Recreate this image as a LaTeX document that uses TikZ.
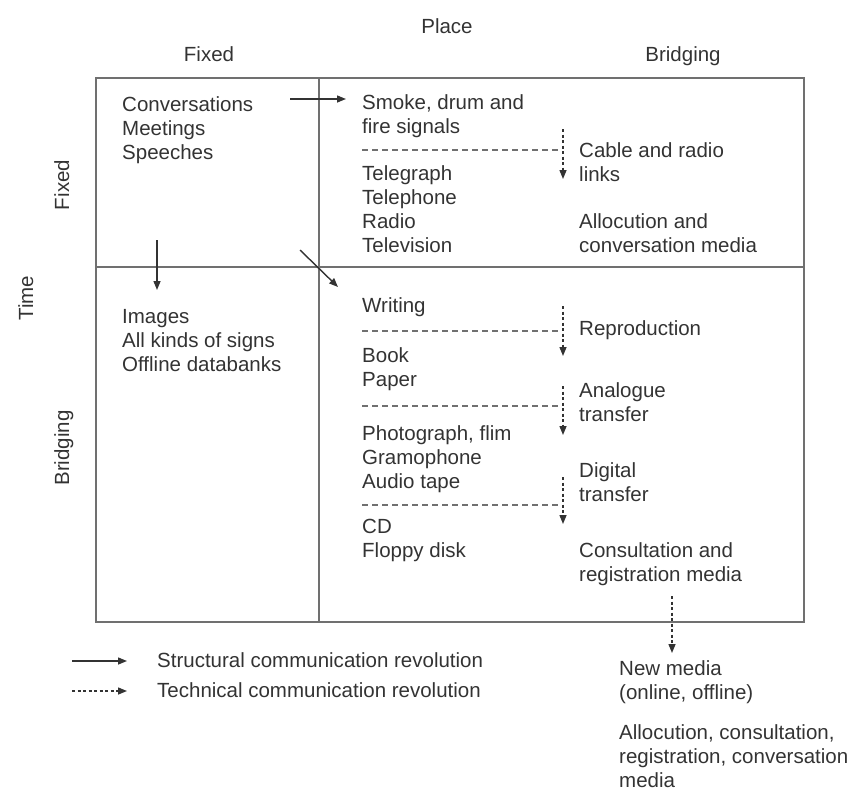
\documentclass[tikz,border=0pt]{standalone}
\usepackage{fontspec}
\setmainfont{Liberation Sans}
\usetikzlibrary{arrows.meta, positioning}
\definecolor{inkgray}{HTML}{333333}
\definecolor{rulegray}{HTML}{707070}

\begin{document}
\begin{tikzpicture}[x=1pt, y=-1pt, >={Stealth[length=9pt,width=7pt,inset=0pt]},
    every node/.style={font=\fontsize{20.5}{24}\selectfont, text=inkgray, inner sep=0pt},
    txt/.style={anchor=base west, align=left},
    head/.style={anchor=base},
    side/.style={anchor=base, rotate=90},
    frame/.style={draw=rulegray, line width=2pt},
    struct/.style={->, draw=inkgray, line width=1.4pt},
    techn/.style={->, draw=inkgray, line width=1.4pt, dash pattern=on 3pt off 2.5pt},
    sep/.style={draw=rulegray, line width=1.3pt, dash pattern=on 6pt off 4pt}]

    \useasboundingbox (0,0) rectangle (858,792);

    % four cells
    \draw[frame] (96,78) rectangle (804,622);
    \draw[frame] (319,78) -- (319,622);
    \draw[frame] (96,267) -- (804,267);

    % axis labels
    \node[head] (place) at (447,34) {Place};
    \node[head] (pfixed) at (209,62) {Fixed};
    \node[head] (pbridge) at (683,62) {Bridging};
    \node[side] (time) at (33,298) {Time};
    \node[side] (tfixed) at (69,185) {Fixed};
    \node[side] (tbridge) at (69,448) {Bridging};

    % cell texts (placed at the baseline of their last line)
    \node[txt] (conv)     at (122,159) {Conversations\\Meetings\\Speeches};
    \node[txt] (smoke)    at (362,133) {Smoke, drum and\\fire signals};
    \node[txt] (teleg)    at (362,252) {Telegraph\\Telephone\\Radio\\Television};
    \node[txt] (cable)    at (579,181) {Cable and radio\\links};
    \node[txt] (alloc)    at (579,252) {Allocution and\\conversation media};
    \node[txt] (images)   at (122,371) {Images\\All kinds of signs\\Offline databanks};
    \node[txt] (writing)  at (362,312) {Writing};
    \node[txt] (repro)    at (579,335) {Reproduction};
    \node[txt] (book)     at (362,386) {Book\\Paper};
    \node[txt] (analog)   at (579,421) {Analogue\\transfer};
    \node[txt] (photo)    at (362,488) {Photograph, flim\\Gramophone\\Audio tape};
    \node[txt] (digital)  at (579,501) {Digital\\transfer};
    \node[txt] (cd)       at (362,557) {CD\\Floppy disk};
    \node[txt] (consult)  at (579,581) {Consultation and\\registration media};
    \node[txt] (newmedia) at (619,699) {New media\\(online, offline)};
    \node[txt] (allmedia) at (619,787) {Allocution, consultation,\\registration, conversation\\media};

    % legend
    \node[txt] (lstruct) at (157,667) {Structural communication revolution};
    \node[txt] (ltech)   at (157,697) {Technical communication revolution};

    % dashed separators
    \foreach \y in {150, 331, 406, 505}
        \draw[sep] (362,\y) -- (560,\y);

    % arrow ends
    \coordinate (s1a) at (290,99);  \coordinate (s1b) at (346,99);
    \coordinate (s2a) at (157,240); \coordinate (s2b) at (157,290);
    \coordinate (s3a) at (300,250); \coordinate (s3b) at (338,287);
    \coordinate (t1a) at (563,129); \coordinate (t1b) at (563,179);
    \coordinate (t2a) at (563,306); \coordinate (t2b) at (563,356);
    \coordinate (t3a) at (563,386); \coordinate (t3b) at (563,435);
    \coordinate (t4a) at (563,477); \coordinate (t4b) at (563,524);
    \coordinate (t5a) at (672,596); \coordinate (t5b) at (672,653);
    \coordinate (l1a) at (72,661);  \coordinate (l1b) at (127,661);
    \coordinate (l2a) at (72,691);  \coordinate (l2b) at (127,691);

    \draw[struct] (s1a) -- (s1b);
    \draw[struct] (s2a) -- (s2b);
    \draw[struct] (s3a) -- (s3b);
    \draw[techn] (t1a) -- (t1b);
    \draw[techn] (t2a) -- (t2b);
    \draw[techn] (t3a) -- (t3b);
    \draw[techn] (t4a) -- (t4b);
    \draw[techn] (t5a) -- (t5b);
    \draw[struct] (l1a) -- (l1b);
    \draw[techn] (l2a) -- (l2b);
\end{tikzpicture}
\end{document}
